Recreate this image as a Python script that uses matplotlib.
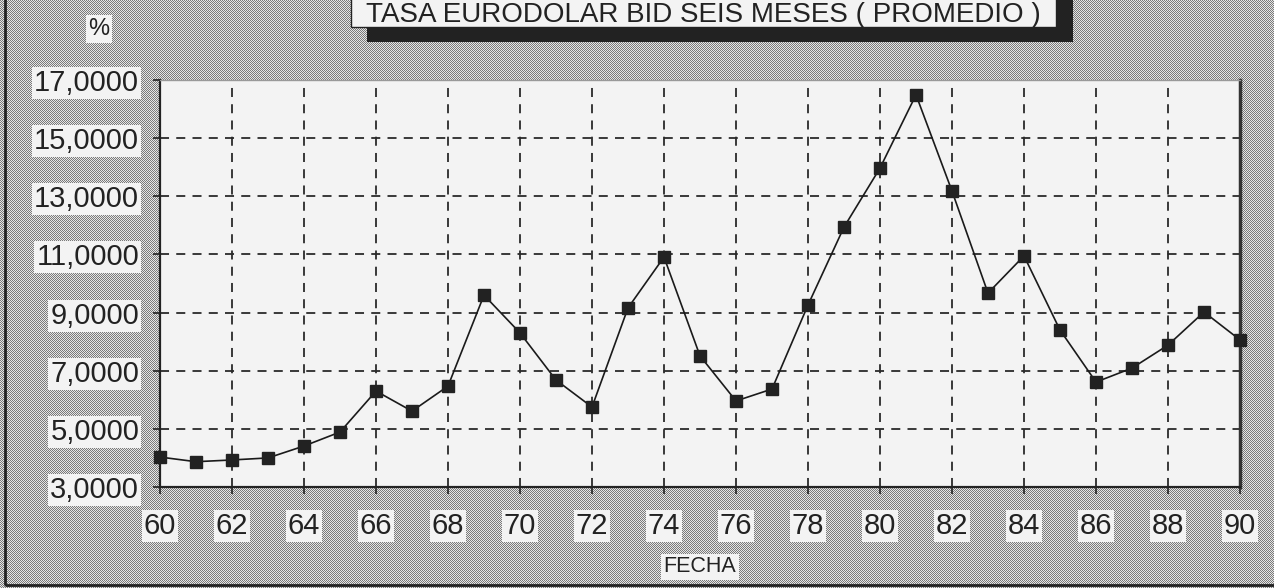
import numpy as np
import matplotlib
matplotlib.use("Agg")
import matplotlib.pyplot as plt
from matplotlib.patches import Rectangle

# ---- data ----
years = list(range(60, 91))
rates = [4.03, 3.87, 3.93, 4.00, 4.41, 4.89, 6.30, 5.61, 6.47, 9.60,
         8.30, 6.68, 5.75, 9.16, 10.91, 7.51, 5.96, 6.37, 9.26, 11.94,
         13.97, 16.49, 13.18, 9.67, 10.95, 8.40, 6.61, 7.09, 7.88, 9.02, 8.06]
x_ticks = list(range(60, 91, 2))
x_tick_labels = [str(v) for v in x_ticks]
y_ticks = list(range(3, 18, 2))
y_tick_labels = [f"{v},0000" for v in y_ticks]
title = "TASA EURODOLAR BID SEIS MESES ( PROMEDIO )"
y_unit = "%"
x_label = "FECHA"

W, H = 1274, 588
plt.rcParams['font.family'] = ['Liberation Sans', 'DejaVu Sans']

fig = plt.figure(figsize=(W / 100, H / 100), dpi=100)

# halftone-like background, pixel for pixel
yy, xx = np.mgrid[0:H, 0:W]
checker = np.where((xx + yy) % 2 == 0, 0.48, 0.90)
bg = np.dstack([checker, checker, checker])
fig.figimage(bg, xo=0, yo=0, zorder=0)

def fx(px):
    return px / W

def fy(py):
    return 1 - py / H

# outer frame lines (left and bottom)
fig.add_artist(Rectangle((fx(5), fy(585)), fx(1290), fy(0) - fy(585) + 0.1,
                         transform=fig.transFigure, fill=False,
                         edgecolor='#222222', linewidth=2, zorder=1))

ax = fig.add_axes([fx(160), fy(487), fx(1240) - fx(160), fy(80) - fy(487)])
ax.set_facecolor('#f3f3f3')
ax.set_zorder(2)

ax.plot(years, rates, color='#1a1a1a', linewidth=1.2, marker='s',
        markersize=8.5, markerfacecolor='#222222', markeredgecolor='#222222',
        zorder=3, clip_on=False)

ax.set_xlim(60, 90)
ax.set_ylim(3, 17)
ax.set_xticks(x_ticks)
ax.set_xticklabels(x_tick_labels)
ax.set_yticks(y_ticks)
ax.set_yticklabels(y_tick_labels)

ax.grid(True, linestyle=(0, (5, 4)), color='#2a2a2a', linewidth=1.3)
ax.set_axisbelow(True)

ax.tick_params(axis='both', direction='out', length=5, width=1.2,
               color='#222222', labelcolor='#222222', labelsize=21)
ax.tick_params(axis='x', pad=13)
ax.tick_params(axis='y', pad=10)
for lab in ax.get_xticklabels() + ax.get_yticklabels():
    lab.set_bbox(dict(facecolor='#f3f3f3', edgecolor='none', pad=1.5))

for side in ['left', 'bottom']:
    ax.spines[side].set_color('#222222')
    ax.spines[side].set_linewidth(1.6)
ax.spines['right'].set_color('#333333')
ax.spines['right'].set_linewidth(2.5)
ax.spines['top'].set_color('#999999')
ax.spines['top'].set_linewidth(1.0)

# title box with shadow
fig.add_artist(Rectangle((fx(367), fy(42)), fx(1073) - fx(367), fy(-20) - fy(42),
                         transform=fig.transFigure, facecolor='#222222',
                         edgecolor='none', zorder=4))
fig.add_artist(Rectangle((fx(351), fy(27)), fx(1056) - fx(351), fy(-20) - fy(27),
                         transform=fig.transFigure, facecolor='#f3f3f3',
                         edgecolor='#222222', linewidth=1.0, zorder=5))
fig.text(fx(703), fy(22), title, ha='center', va='baseline', fontsize=20,
         color='#222222', zorder=6)

fig.text(fx(99), fy(29), y_unit, ha='center', va='center', fontsize=17,
         color='#222222', zorder=6,
         bbox=dict(facecolor='#f3f3f3', edgecolor='none', pad=2))
fig.text(fx(700), fy(567), x_label, ha='center', va='center', fontsize=15.5,
         color='#222222', zorder=6,
         bbox=dict(facecolor='#f3f3f3', edgecolor='none', pad=2))

fig.savefig('out.png', dpi=100)
